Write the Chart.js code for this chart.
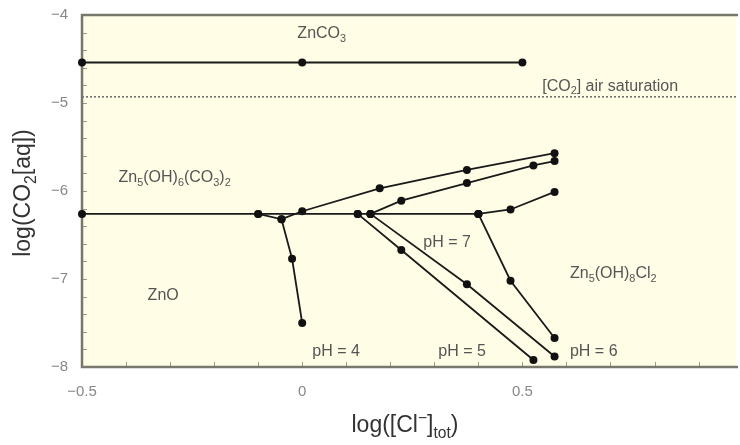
<!DOCTYPE html>
<html>
<head>
<meta charset="utf-8">
<script src="https://cdn.jsdelivr.net/npm/chart.js@4/dist/chart.umd.min.js"></script>
<style>
  html, body { margin: 0; padding: 0; background: #fff; overflow: hidden; }
  #wrap { width: 740px; height: 445px; }
</style>
</head>
<body>
<div id="wrap"><canvas id="myChart" width="740" height="445"></canvas></div>
<script>
// axis ticks
const xTicks = [-0.5, 0, 0.5];
const yTicks = [-4, -5, -6, -7, -8];

// ZnCO3 boundary and air saturation level
const carbonateX = [-0.5, 0, 0.5];
const carbonateY = [-4.54, -4.54, -4.54];
const airSatX = [-0.5, 0.985];
const airSatY = [-4.93, -4.93];

// ZnO / hydrozincite boundary
const boundaryX = [-0.5, -0.1, 0.126, 0.155, 0.4];
const boundaryY = [-6.26, -6.26, -6.26, -6.26, -6.26];

// pH = 4 path
const ph4X = [-0.1, -0.047, -0.023, 0];
const ph4Y = [-6.26, -6.32, -6.77, -7.5];

// rising paths
const upperAX = [-0.047, 0, 0.176, 0.374, 0.573];
const upperAY = [-6.32, -6.23, -5.97, -5.76, -5.57];
const upperBX = [0.155, 0.225, 0.374, 0.525, 0.573];
const upperBY = [-6.26, -6.11, -5.91, -5.71, -5.66];
const upperCX = [0.4, 0.473, 0.573];
const upperCY = [-6.26, -6.21, -6.01];

// falling paths (pH 5, 6, 7)
const lowerAX = [0.126, 0.225, 0.525];
const lowerAY = [-6.26, -6.67, -7.92];
const lowerBX = [0.155, 0.374, 0.573];
const lowerBY = [-6.26, -7.06, -7.88];
const lowerCX = [0.4, 0.473, 0.573];
const lowerCY = [-6.26, -7.02, -7.67];

const toPts = (xs, ys) => xs.map((x, i) => ({x: x, y: ys[i]}));

const lineSet = (xs, ys) => ({
    data: toPts(xs, ys),
    showLine: true,
    clip: false,
    borderColor: '#1a1a1a',
    borderWidth: 1.8,
    backgroundColor: '#111',
    pointRadius: 4,
    pointHoverRadius: 4,
    pointBorderWidth: 0
});

// text: segments [text, shift] shift -1 = subscript, 1 = superscript
function richText(ctx, segs, x, y, size, color) {
    ctx.save();
    ctx.fillStyle = color;
    ctx.textBaseline = 'middle';
    ctx.textAlign = 'left';
    let cx = x;
    segs.forEach(([t, s]) => {
        let fs = s === 0 ? size : size * 0.68;
        ctx.font = fs + 'px "Liberation Sans", Arial, sans-serif';
        let dy = s === -1 ? size * 0.32 : (s === 1 ? -size * 0.32 : 0);
        ctx.fillText(t, cx, y + dy);
        cx += ctx.measureText(t).width;
    });
    ctx.restore();
    return cx - x;
}
function richWidth(ctx, segs, size) {
    let w = 0;
    ctx.save();
    segs.forEach(([t, s]) => {
        ctx.font = (s === 0 ? size : size * 0.68) + 'px "Liberation Sans", Arial, sans-serif';
        w += ctx.measureText(t).width;
    });
    ctx.restore();
    return w;
}

const notes = [
    {x: -0.011, y: -4.21, segs: [['ZnCO', 0], ['3', -1]]},
    {x: -0.417, y: -5.85, segs: [['Zn', 0], ['5', -1], ['(OH)', 0], ['6', -1], ['(CO', 0], ['3', -1], [')', 0], ['2', -1]]},
    {x: -0.351, y: -7.19, segs: [['ZnO', 0]]},
    {x: 0.608, y: -6.94, segs: [['Zn', 0], ['5', -1], ['(OH)', 0], ['8', -1], ['Cl', 0], ['2', -1]]},
    {x: 0.545, y: -4.81, segs: [['[CO', 0], ['2', -1], ['] air saturation', 0]]},
    {x: 0.023, y: -7.83, segs: [['pH = 4', 0]]},
    {x: 0.309, y: -7.83, segs: [['pH = 5', 0]]},
    {x: 0.608, y: -7.83, segs: [['pH = 6', 0]]},
    {x: 0.275, y: -6.59, segs: [['pH = 7', 0]]}
];

const framePlugin = {
    id: 'frame',
    beforeDatasetsDraw(chart) {
        const {ctx, chartArea: a, scales} = chart;
        ctx.save();
        ctx.fillStyle = '#fffde6';
        ctx.fillRect(a.left, a.top, a.right - a.left, a.bottom - a.top);
        // minor ticks
        ctx.strokeStyle = '#9a9a8a';
        ctx.lineWidth = 1;
        for (let v = -0.4; v < 0.99; v += 0.1) {
            let px = Math.round(scales.x.getPixelForValue(v)) + 0.5;
            ctx.beginPath(); ctx.moveTo(px, a.bottom); ctx.lineTo(px, a.bottom - 5); ctx.stroke();
        }
        for (let v = -7.8; v < -4.05; v += 0.2) {
            let py = Math.round(scales.y.getPixelForValue(v)) + 0.5;
            ctx.beginPath(); ctx.moveTo(a.left, py); ctx.lineTo(a.left + 5, py); ctx.stroke();
        }
        // dotted saturation line
        ctx.strokeStyle = '#666';
        ctx.lineWidth = 1.5;
        ctx.setLineDash([2, 2]);
        ctx.beginPath();
        ctx.moveTo(scales.x.getPixelForValue(airSatX[0]), scales.y.getPixelForValue(airSatY[0]));
        ctx.lineTo(scales.x.getPixelForValue(airSatX[1]), scales.y.getPixelForValue(airSatY[1]));
        ctx.stroke();
        ctx.setLineDash([]);
        // frame
        ctx.strokeStyle = '#77776c';
        ctx.lineWidth = 2.5;
        ctx.beginPath();
        ctx.moveTo(a.right + 2, a.top);
        ctx.lineTo(a.left, a.top);
        ctx.lineTo(a.left, a.bottom);
        ctx.lineTo(a.right + 2, a.bottom);
        ctx.stroke();
        ctx.restore();
    },
    afterDraw(chart) {
        const {ctx, scales} = chart;
        notes.forEach(n => {
            richText(ctx, n.segs, scales.x.getPixelForValue(n.x), scales.y.getPixelForValue(n.y), 16, '#555');
        });
        // x title
        const xt = [['log([Cl', 0], ['\u2212', 1], [']', 0], ['tot', -1], [')', 0]];
        const w = richWidth(ctx, xt, 23);
        richText(ctx, xt, 405 - w / 2, 426, 23, '#333');
        // y title
        const yt = [['log(CO', 0], ['2', -1], ['[aq])', 0]];
        const wy = richWidth(ctx, yt, 23);
        ctx.save();
        ctx.translate(24, 193);
        ctx.rotate(-Math.PI / 2);
        richText(ctx, yt, -wy / 2, 0, 23, '#333');
        ctx.restore();
    }
};

const fmt = v => (v < 0 ? '\u2212' : '') + (Math.abs(v) === Math.round(Math.abs(v)) ? String(Math.abs(v)) : Math.abs(v).toFixed(1));

let callChart = document.getElementById('myChart').getContext('2d');
let chart = new Chart(callChart, {
    type: 'scatter',
    data: {
        datasets: [
            lineSet(carbonateX, carbonateY),
            lineSet(boundaryX, boundaryY),
            lineSet(ph4X, ph4Y),
            lineSet(upperAX, upperAY),
            lineSet(upperBX, upperBY),
            lineSet(upperCX, upperCY),
            lineSet(lowerAX, lowerAY),
            lineSet(lowerBX, lowerBY),
            lineSet(lowerCX, lowerCY)
        ]
    },
    options: {
        responsive: false,
        animation: false,
        events: [],
        layout: {padding: {top: 4, left: 0, right: 0, bottom: 0}},
        plugins: {legend: {display: false}, tooltip: {enabled: false}},
        scales: {
            x: {
                type: 'linear',
                min: -0.5,
                max: 0.985,
                afterFit: s => { s.height = 78; },
                afterBuildTicks: s => { s.ticks = xTicks.map(v => ({value: v})); },
                grid: {display: false},
                border: {display: false},
                ticks: {
                    callback: v => fmt(v),
                    color: '#888',
                    font: {size: 15, family: '"Liberation Sans", Arial, sans-serif'},
                    padding: 8,
                    maxRotation: 0
                }
            },
            y: {
                type: 'linear',
                min: -8,
                max: -4,
                afterFit: s => { s.width = 82; },
                afterBuildTicks: s => { s.ticks = yTicks.map(v => ({value: v})); },
                grid: {display: false},
                border: {display: false},
                ticks: {
                    callback: v => fmt(v),
                    color: '#888',
                    font: {size: 15, family: '"Liberation Sans", Arial, sans-serif'},
                    padding: 6
                }
            }
        }
    },
    plugins: [framePlugin]
});
</script>
</body>
</html>
